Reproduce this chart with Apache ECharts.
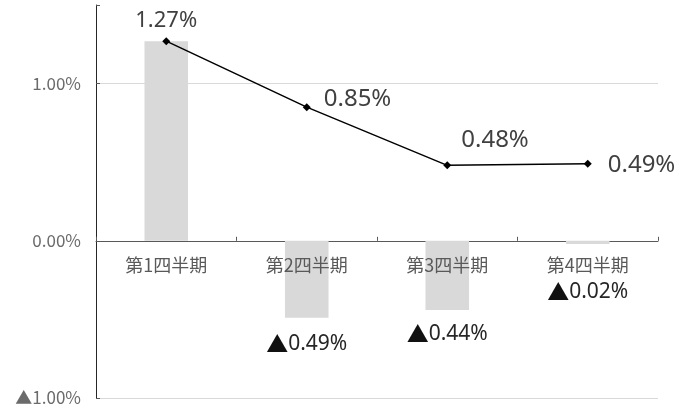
<!DOCTYPE html>
<html>
<head>
<meta charset="utf-8">
<script src="https://cdn.jsdelivr.net/npm/echarts@6/dist/echarts.min.js"></script>
<style>
  html, body { margin: 0; padding: 0; background: #fff; }
  #chart { width: 690px; height: 406px; }
</style>
</head>
<body>
<div id="chart"></div>
<script>
// Quarterly data (percent)
const quarters = ['第1四半期', '第2四半期', '第3四半期', '第4四半期'];
const barValues = [1.27, -0.49, -0.44, -0.02];
const lineValues = [1.27, 0.85, 0.48, 0.49];
const yTicks = [-1, 0, 1];

// Label placement per point (line) and per bar
const linePos = [
  { position: 'top', distance: 5, offset: [0, 0], fontSize: 22 },
  { position: 'right', distance: 13, offset: [0, -8] },
  { position: 'right', distance: 10, offset: [0, -25] },
  { position: 'right', distance: 16, offset: [0, 1] }
];
const barPos = [
  { show: false },
  { position: 'bottom', distance: 15, offset: [0, 0] },
  { position: 'bottom', distance: 13, offset: [0, 0] },
  { position: 'bottom', distance: 37, offset: [0, 0] }
];

// Negative values are written with a leading ▲
const plainPct = v => (v < 0 ? '▲' : '') + Math.abs(v).toFixed(2) + '%';
const richPct = v => (v < 0 ? '{tri|▲}' : '') + '{num|' + Math.abs(v).toFixed(2) + '%}';

const chart = echarts.init(document.getElementById('chart'), null, { renderer: 'canvas' });

chart.setOption({
  animation: false,
  backgroundColor: '#ffffff',
  grid: { left: 96, right: 32, top: 5, bottom: 8, containLabel: false, outerBoundsMode: 'none' },
  xAxis: [
    {
      // axis line along zero with ticks between categories
      type: 'category',
      data: quarters,
      boundaryGap: true,
      axisLine: { onZero: true, lineStyle: { color: '#595959', width: 1 } },
      axisTick: { show: true, inside: true, length: 4, lineStyle: { color: '#595959' } },
      axisLabel: { show: false },
      splitLine: { show: false }
    },
    {
      // category names, placed just under the zero line, drawn over the bars
      type: 'category',
      data: quarters,
      position: 'bottom',
      offset: -150,
      boundaryGap: true,
      z: 10,
      axisLine: { show: false, onZero: false },
      axisTick: { show: false },
      splitLine: { show: false },
      axisLabel: {
        margin: 8,
        color: '#595959',
        fontSize: 18,
        fontFamily: '"Noto Sans CJK JP", sans-serif'
      }
    }
  ],
  yAxis: {
    type: 'value',
    min: -1,
    max: 1.5,
    interval: 1,
    axisLine: { show: true, lineStyle: { color: '#262626', width: 1 } },
    axisTick: { show: true, inside: true, length: 4, lineStyle: { color: '#595959' } },
    axisLabel: {
      margin: 15,
      color: '#6b6b6b',
      fontSize: 17,
      fontFamily: '"Noto Sans CJK JP", sans-serif',
      formatter: v => (yTicks.indexOf(Math.round(v * 100) / 100) >= 0 ? plainPct(v) : '')
    },
    splitLine: {
      show: true,
      lineStyle: { color: ['#d9d9d9', '#d9d9d9', '#d9d9d9', 'rgba(0,0,0,0)'], width: 1 }
    }
  },
  series: [
    {
      type: 'bar',
      xAxisIndex: 0,
      barWidth: '31%',
      itemStyle: { color: '#d9d9d9' },
      data: barValues.map((v, i) => ({
        value: v,
        label: Object.assign({
          show: true,
          formatter: p => richPct(p.value),
          rich: {
            tri: { fontSize: 22, color: '#111111', fontFamily: '"Noto Sans CJK JP", sans-serif' },
            num: { fontSize: 21, color: '#262626', fontFamily: '"Noto Sans", sans-serif' }
          }
        }, barPos[i])
      })),
      z: 1
    },
    {
      type: 'line',
      xAxisIndex: 0,
      symbol: 'diamond',
      symbolSize: 8,
      lineStyle: { color: '#000000', width: 1.5 },
      itemStyle: { color: '#000000' },
      data: lineValues.map((v, i) => ({
        value: v,
        label: Object.assign({
          show: true,
          formatter: p => Math.abs(p.value).toFixed(2) + '%',
          color: '#404040',
          fontSize: 24,
          fontFamily: '"Noto Sans", sans-serif'
        }, linePos[i])
      })),
      z: 3
    }
  ]
});
</script>
</body>
</html>
